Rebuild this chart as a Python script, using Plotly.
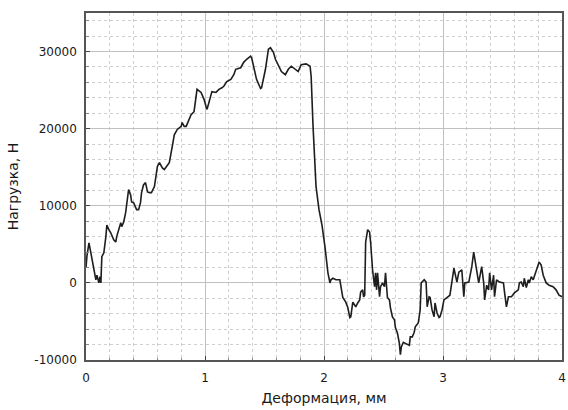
import plotly.graph_objects as go

# Load–deformation record of the specimen
deformation_mm = [
    0.000, 0.008, 0.025, 0.042, 0.050, 0.067, 0.083, 0.092, 0.108, 0.117,
    0.125, 0.133, 0.150, 0.167, 0.175, 0.192, 0.208, 0.233, 0.250, 0.258,
    0.275, 0.292, 0.300, 0.317, 0.333, 0.342, 0.358, 0.375, 0.383, 0.400,
    0.417, 0.425, 0.442, 0.458, 0.467, 0.483, 0.500, 0.517, 0.533, 0.550,
    0.575, 0.600, 0.617, 0.642, 0.658, 0.683, 0.700, 0.725, 0.742, 0.767,
    0.800, 0.808, 0.825, 0.842, 0.867, 0.883, 0.908, 0.925, 0.933, 0.967,
    0.992, 1.008, 1.017, 1.033, 1.058, 1.092, 1.117, 1.142, 1.158, 1.183,
    1.217, 1.242, 1.258, 1.300, 1.325, 1.350, 1.383, 1.392, 1.408, 1.433,
    1.467, 1.475, 1.508, 1.533, 1.550, 1.575, 1.592, 1.617, 1.642, 1.675,
    1.700, 1.725, 1.758, 1.783, 1.808, 1.850, 1.883, 1.892, 1.908, 1.933,
    1.958, 1.983, 2.008, 2.033, 2.050, 2.058, 2.075, 2.100, 2.133, 2.142,
    2.158, 2.183, 2.200, 2.217, 2.225, 2.242, 2.258, 2.267, 2.283, 2.300,
    2.308, 2.325, 2.333, 2.342, 2.350, 2.367, 2.383, 2.392, 2.408, 2.425,
    2.433, 2.442, 2.450, 2.467, 2.475, 2.492, 2.508, 2.517, 2.533, 2.550,
    2.558, 2.575, 2.592, 2.600, 2.617, 2.633, 2.642, 2.650, 2.667, 2.683,
    2.717, 2.725, 2.742, 2.758, 2.767, 2.792, 2.808, 2.817, 2.842, 2.858,
    2.867, 2.883, 2.892, 2.908, 2.925, 2.933, 2.950, 2.967, 2.975, 2.992,
    3.008, 3.033, 3.058, 3.092, 3.100, 3.117, 3.133, 3.158, 3.175, 3.183,
    3.217, 3.242, 3.258, 3.267, 3.283, 3.300, 3.325, 3.342, 3.350, 3.367,
    3.383, 3.392, 3.408, 3.425, 3.433, 3.450, 3.475, 3.508, 3.517, 3.533,
    3.550, 3.575, 3.600, 3.633, 3.642, 3.658, 3.675, 3.683, 3.700, 3.717,
    3.725, 3.742, 3.758, 3.783, 3.808, 3.825, 3.842, 3.867, 3.892, 3.925,
    3.950, 3.975, 4.000,
]

load_n = [
    2000, 3500, 5200, 3900, 3000, 1700, 400, 1000, 0, 800,
    0, 3400, 3900, 6000, 7500, 6900, 6500, 5600, 5300, 6000,
    6900, 7800, 7300, 7900, 9100, 10400, 12100, 11400, 10500, 10400,
    9700, 9500, 9500, 10400, 11700, 12700, 13000, 11800, 11700, 11700,
    12500, 15100, 15600, 14900, 14700, 15300, 15600, 17700, 19200, 19900,
    20300, 20800, 20300, 20300, 21200, 21800, 22200, 23800, 25100, 24700,
    23800, 22900, 22500, 23400, 24800, 24700, 25100, 25300, 25500, 26100,
    26400, 27000, 27700, 27900, 28600, 29000, 29400, 29200, 28100, 26400,
    25200, 25300, 27700, 30300, 30500, 29900, 29000, 28100, 27400, 27000,
    27700, 28100, 27700, 27400, 28300, 28400, 28100, 26800, 20300, 12500,
    9500, 7500, 4700, 1300, 0, 400, 600, 400, 400, -300,
    -1900, -2500, -3200, -4500, -4400, -2500, -2900, -3100, -2600, -2200,
    -1200, -900, -1800, -1600, 5300, 6900, 6600, 5200, 1700, -500,
    1300, -900, 1300, -1800, -500, 0, -500, 1300, -1900, -2200,
    -3200, -4400, -4800, -5800, -6500, -7800, -9300, -8300, -7700, -7800,
    -8100, -7000, -7000, -6400, -5700, -5200, -3500, 0, 400, 100,
    -3100, -1800, -1900, -3500, -4400, -2600, -3900, -4500, -4400, -3500,
    -2200, -1900, -1600, 1900, 1400, 100, 1400, 1700, -1800, 0,
    100, 2100, 4000, 3200, 1400, 0, 2100, 0, -2200, -300,
    -900, 1300, -900, 1000, -1800, 400, 100, 0, -1200, -3100,
    -1800, -1800, -1300, -900, 0, 100, -500, 600, -600, 400,
    0, 800, 400, 1700, 2700, 2300, 1000, 0, -300, -500,
    -900, -1600, -1800,
]

x_ticks = [0, 1, 2, 3, 4]
y_ticks = [-10000, 0, 10000, 20000, 30000]

font_family = "DejaVu Sans, Liberation Sans, sans-serif"
text_color = "#1a1a1a"

fig = go.Figure(
    go.Scatter(
        x=deformation_mm,
        y=load_n,
        mode="lines",
        line=dict(color="#1e1e1e", width=1.6),
        hoverinfo="x+y",
    )
)

axis_common = dict(
    showline=True,
    linecolor="#555555",
    linewidth=1.5,
    mirror=True,
    showgrid=True,
    gridcolor="#c0c0c0",
    gridwidth=1,
    zeroline=False,
    ticks="inside",
    ticklen=4,
    tickcolor="#444444",
    tickfont=dict(family=font_family, size=12, color=text_color),
)

fig.update_xaxes(
    range=[0, 4],
    tickvals=x_ticks,
    ticktext=[str(v) for v in x_ticks],
    ticklabelstandoff=6,
    minor=dict(
        dtick=0.2,
        showgrid=True,
        gridcolor="#cfcfcf",
        griddash="dot",
        gridwidth=1,
        ticks="inside",
        ticklen=2,
        tickcolor="#888888",
    ),
    title=dict(
        text="Деформация, мм",
        font=dict(family=font_family, size=14, color=text_color),
        standoff=9,
    ),
    **axis_common,
)

fig.update_yaxes(
    range=[-10000, 35000],
    tickvals=y_ticks,
    ticktext=[str(v) for v in y_ticks],
    ticklabelstandoff=5,
    minor=dict(
        dtick=2000,
        tick0=0,
        showgrid=True,
        gridcolor="#cfcfcf",
        griddash="dot",
        gridwidth=1,
        ticks="inside",
        ticklen=3,
        tickcolor="#888888",
    ),
    title=dict(
        text="Нагрузка, Н",
        font=dict(family=font_family, size=14, color=text_color),
        standoff=12,
    ),
    **axis_common,
)

fig.update_layout(
    width=568,
    height=410,
    margin=dict(l=86, r=2, t=13, b=50),
    paper_bgcolor="white",
    plot_bgcolor="white",
    showlegend=False,
)

fig.write_html("out.html")
